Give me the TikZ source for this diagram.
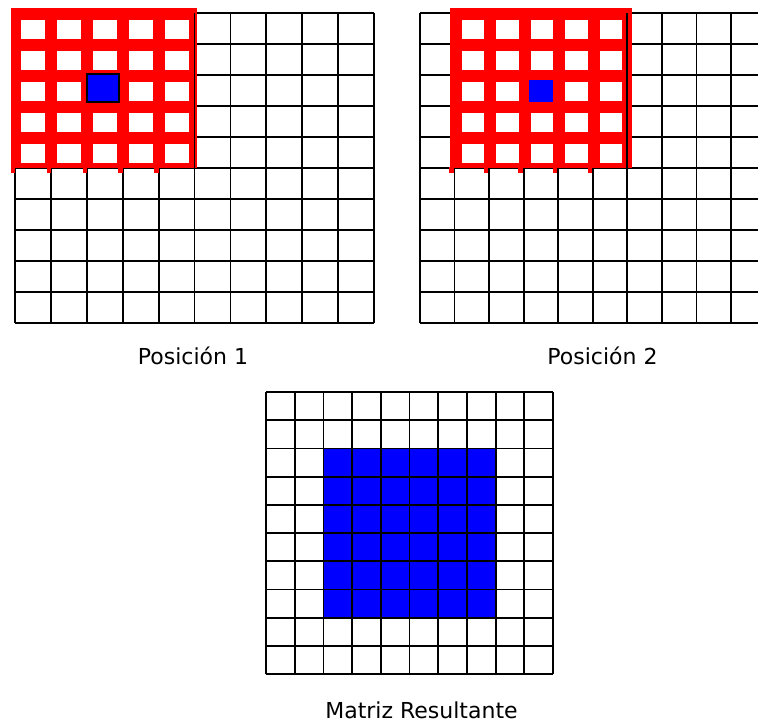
\documentclass[tikz,border=0pt]{standalone}
\usepackage{fontspec}
\setmainfont{DejaVu Sans}

\begin{document}
\begin{tikzpicture}[
        x=1pt, y=-1pt, % coordenadas en pixeles de la imagen
        rejilla/.style={black, line width=1.8pt},
        ventana/.style={fill=red},
        hueco/.style={fill=white},
        marca/.style={red, line width=4.5pt},
        activa/.style={fill=blue},
        etiqueta/.style={anchor=base, inner sep=0pt, font=\fontsize{22}{26}\selectfont}
    ]
        \clip (0,0) rectangle (758,723);

        % --- POSICION 1 ---
        \foreach \i in {0,...,10} {
            \draw[rejilla] (15+\i*35.9,13) -- (15+\i*35.9,323);
            \draw[rejilla] (15,13+\i*31) -- (374,13+\i*31);
        }
        % Ventana roja 5x5 sobre las primeras celdas
        \fill[ventana] (11,8) rectangle (197,168);
        \foreach \i in {0,...,4}
            \foreach \j in {0,...,4}
                \fill[hueco] (15+\i*35.9+6,13+\j*31+7) rectangle (15+\i*35.9+29.9,13+\j*31+26);
        \foreach \i in {0,...,4}
            \draw[marca] (13+\i*35.9,167) -- (13+\i*35.9,173);
        \draw[rejilla] (194.5,13) -- (194.5,168);
        \draw[activa, draw=black, line width=1.4pt] (87,74) rectangle (119,102);
        \node[etiqueta] (pos1) at (193,364) {Posición 1};

        % --- POSICION 2 ---
        \foreach \i in {0,...,10} {
            \draw[rejilla] (420+\i*34.56,13) -- (420+\i*34.56,323);
            \draw[rejilla] (420,13+\i*31) -- (766,13+\i*31);
        }
        % Ventana desplazada una columna a la derecha
        \fill[ventana] (450,8) rectangle (632,168);
        \foreach \i in {1,...,5}
            \foreach \j in {0,...,4}
                \fill[hueco] (420+\i*34.56+7,13+\j*31+7) rectangle (420+\i*34.56+29.5,13+\j*31+26);
        \foreach \i in {1,...,5}
            \draw[marca] (417+\i*34.56,167) -- (417+\i*34.56,173);
        \draw[rejilla] (626.8,13) -- (626.8,168);
        \fill[activa] (529,80) rectangle (553,102);
        \node[etiqueta] (pos2) at (602.5,364) {Posición 2};

        % --- MATRIZ RESULTANTE ---
        \fill[activa] (266+2*28.7,392+2*28.2) rectangle (266+8*28.7,392+8*28.2);
        \foreach \i in {0,...,10} {
            \draw[rejilla] (266+\i*28.7,392) -- (266+\i*28.7,674);
            \draw[rejilla] (266,392+\i*28.2) -- (553,392+\i*28.2);
        }
        \node[etiqueta] (resultado) at (421.5,718) {Matriz Resultante};
    \end{tikzpicture}
\end{document}
